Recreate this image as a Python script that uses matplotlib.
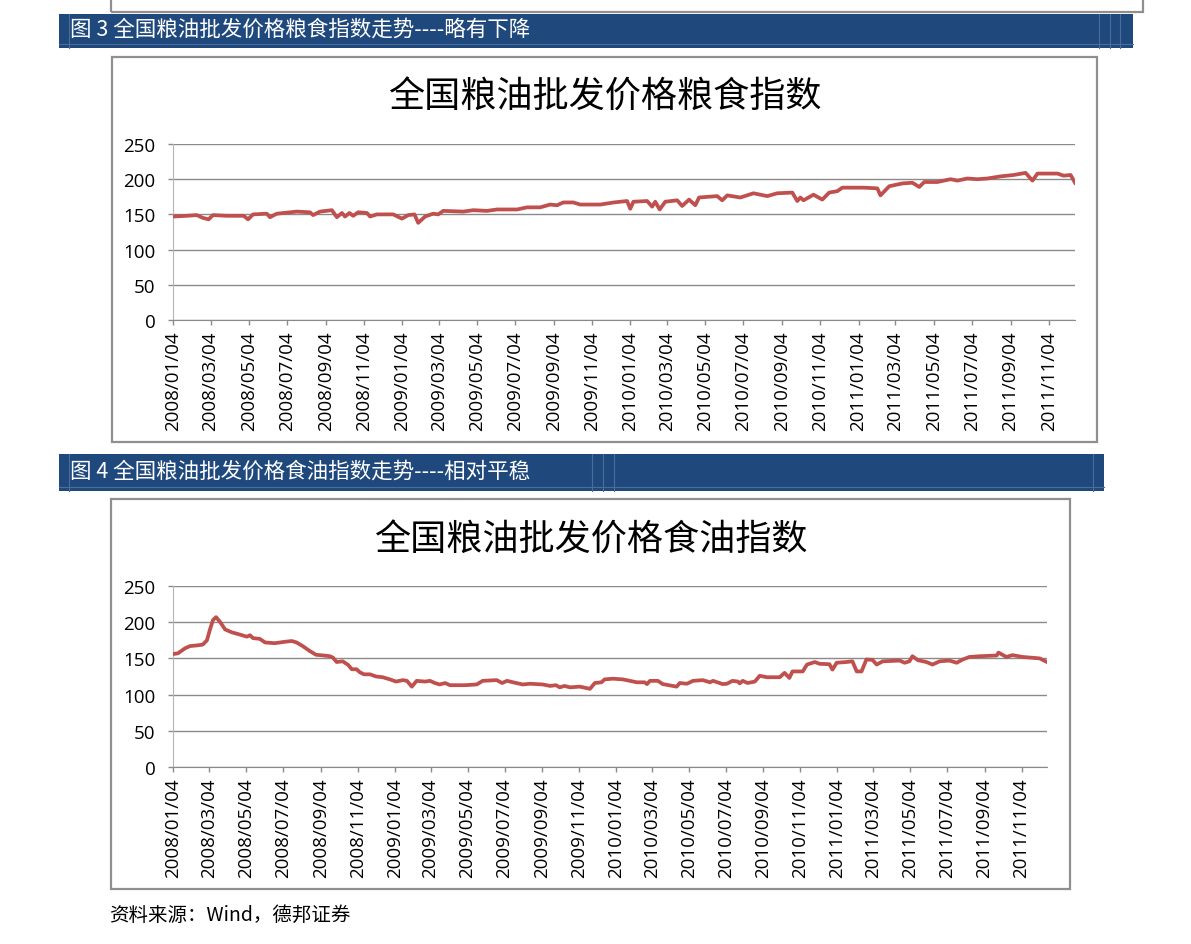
import matplotlib
matplotlib.use("Agg")
import matplotlib.pyplot as plt
import matplotlib.dates as mdates
from matplotlib.patches import Rectangle
from matplotlib.lines import Line2D
import pandas as pd

# ---- data ----
grain_dates = [
    "2008-01-04", "2008-01-26", "2008-02-11", "2008-02-21", "2008-03-01", "2008-03-08",
    "2008-03-30", "2008-04-26", "2008-05-03", "2008-05-11", "2008-06-02", "2008-06-07",
    "2008-06-18", "2008-07-20", "2008-08-10", "2008-08-15", "2008-08-26", "2008-09-14",
    "2008-09-22", "2008-09-30", "2008-10-05", "2008-10-12", "2008-10-18", "2008-10-26",
    "2008-11-09", "2008-11-14", "2008-11-25", "2008-12-21", "2009-01-04", "2009-01-14",
    "2009-01-24", "2009-01-30", "2009-02-10", "2009-02-23", "2009-03-03", "2009-03-11",
    "2009-04-12", "2009-04-28", "2009-05-20", "2009-06-05", "2009-07-07", "2009-07-23",
    "2009-08-13", "2009-08-29", "2009-09-09", "2009-09-19", "2009-10-05", "2009-10-16",
    "2009-11-17", "2009-12-09", "2009-12-30", "2010-01-04", "2010-01-09", "2010-01-31",
    "2010-02-08", "2010-02-13", "2010-02-20", "2010-03-01", "2010-03-20", "2010-03-28",
    "2010-04-08", "2010-04-18", "2010-04-24", "2010-05-23", "2010-05-31", "2010-06-08",
    "2010-06-29", "2010-07-20", "2010-08-11", "2010-08-27", "2010-09-20", "2010-09-28",
    "2010-10-03", "2010-10-08", "2010-10-24", "2010-11-07", "2010-11-18", "2010-12-01",
    "2010-12-09", "2011-01-12", "2011-02-03", "2011-02-08", "2011-02-22", "2011-03-15",
    "2011-03-31", "2011-04-11", "2011-04-19", "2011-05-10", "2011-05-31", "2011-06-11",
    "2011-06-27", "2011-07-13", "2011-07-29", "2011-08-19", "2011-09-09", "2011-09-28",
    "2011-10-09", "2011-10-17", "2011-11-18", "2011-11-28", "2011-12-09", "2011-12-16",
]
grain_values = [
    147, 148, 149, 145, 143, 149,
    148, 148, 143, 150, 151, 146,
    151, 154, 153, 149, 154, 156,
    146, 152, 147, 152, 148, 153,
    152, 147, 150, 150, 144, 149,
    150, 138, 147, 151, 150, 155,
    154, 156, 155, 157, 157, 160,
    160, 164, 163, 167, 167, 164,
    164, 167, 169, 158, 168, 169,
    161, 168, 157, 168, 170, 162,
    171, 163, 174, 176, 170, 177,
    174, 180, 176, 180, 181, 169,
    174, 170, 178, 171, 181, 183,
    188, 188, 187, 177, 190, 194,
    195, 189, 196, 196, 200, 198,
    201, 200, 201, 204, 206, 209,
    198, 208, 208, 205, 206, 195,
]

oil_dates = [
    "2008-01-04", "2008-01-12", "2008-01-24", "2008-02-01", "2008-02-13", "2008-02-22",
    "2008-02-29", "2008-03-05", "2008-03-10", "2008-03-15", "2008-03-22", "2008-03-30",
    "2008-04-10", "2008-04-23", "2008-05-05", "2008-05-10", "2008-05-15", "2008-05-26",
    "2008-06-04", "2008-06-20", "2008-07-07", "2008-07-18", "2008-07-26", "2008-08-05",
    "2008-08-17", "2008-08-27", "2008-09-09", "2008-09-19", "2008-09-24", "2008-09-30",
    "2008-10-10", "2008-10-19", "2008-10-25", "2008-11-02", "2008-11-07", "2008-11-14",
    "2008-11-24", "2008-12-04", "2008-12-15", "2008-12-27", "2009-01-06", "2009-01-17",
    "2009-01-24", "2009-02-01", "2009-02-09", "2009-02-23", "2009-03-03", "2009-03-11",
    "2009-03-19", "2009-03-28", "2009-04-05", "2009-04-30", "2009-05-19", "2009-05-29",
    "2009-06-21", "2009-06-30", "2009-07-08", "2009-07-18", "2009-08-03", "2009-08-15",
    "2009-09-05", "2009-09-17", "2009-09-27", "2009-10-03", "2009-10-11", "2009-10-20",
    "2009-11-05", "2009-11-22", "2009-11-30", "2009-12-11", "2009-12-16", "2009-12-30",
    "2010-01-15", "2010-01-27", "2010-02-07", "2010-02-20", "2010-02-24", "2010-03-01",
    "2010-03-14", "2010-03-22", "2010-04-14", "2010-04-19", "2010-05-01", "2010-05-11",
    "2010-05-27", "2010-06-08", "2010-06-13", "2010-06-29", "2010-07-06", "2010-07-15",
    "2010-07-24", "2010-07-27", "2010-08-01", "2010-08-09", "2010-08-21", "2010-08-29",
    "2010-09-10", "2010-10-01", "2010-10-09", "2010-10-17", "2010-10-22", "2010-11-08",
    "2010-11-15", "2010-11-28", "2010-12-06", "2010-12-22", "2010-12-27", "2011-01-03",
    "2011-01-19", "2011-01-29", "2011-02-05", "2011-02-13", "2011-02-21", "2011-03-03",
    "2011-03-10", "2011-03-20", "2011-04-17", "2011-04-25", "2011-05-03", "2011-05-08",
    "2011-05-17", "2011-05-31", "2011-06-10", "2011-06-22", "2011-07-08", "2011-07-20",
    "2011-07-30", "2011-08-10", "2011-08-27", "2011-09-24", "2011-09-27", "2011-10-10",
    "2011-10-20", "2011-11-06", "2011-12-04", "2011-12-16",
]
oil_values = [
    156, 157, 164, 167, 168, 169,
    175, 190, 203, 207, 200, 190,
    186, 183, 180, 182, 178, 177,
    172, 171, 173, 174, 172, 167,
    160, 155, 154, 153, 151, 145,
    146, 141, 135, 135, 131, 128,
    128, 125, 124, 121, 118, 120,
    119, 111, 119, 118, 119, 116,
    114, 116, 113, 113, 114, 119,
    120, 116, 119, 117, 114, 115,
    114, 112, 113, 110, 112, 110,
    111, 108, 116, 117, 121, 122,
    121, 119, 117, 117, 114.5, 119,
    119, 114.5, 111, 116, 115, 119,
    120, 117, 119, 114.5, 115, 119,
    118, 115.5, 119, 116, 118, 126,
    124, 124, 130, 123, 132, 132,
    141.5, 145, 142.5, 142, 134.5, 144,
    145, 146, 132, 132, 148.5, 148,
    141.5, 146, 147, 144, 146, 153,
    147.5, 145, 141.5, 146, 147, 144,
    148.5, 152, 153, 154, 158, 152,
    154.5, 152, 150, 145,
]

title_grain = "全国粮油批发价格粮食指数"
title_oil = "全国粮油批发价格食油指数"
banner_grain = "图 3 全国粮油批发价格粮食指数走势----略有下降"
banner_oil = "图 4 全国粮油批发价格食油指数走势----相对平稳"
source_note = "资料来源：Wind，德邦证券"
y_ticks = [0, 50, 100, 150, 200, 250]
x_start, x_end = "2008-01-04", "2011-12-16"

W, H = 1191, 945
plt.rcParams['font.family'] = ['Open Sans', 'DejaVu Sans']
cjk = ['Noto Sans CJK SC', 'DejaVu Sans']
fig = plt.figure(figsize=(W / 100, H / 100), dpi=100)


def px_rect(x0, y0, x1, y1):
    # pixel box measured from the top-left -> figure fraction [l, b, w, h]
    return [x0 / W, 1 - y1 / H, (x1 - x0) / W, (y1 - y0) / H]


def frame(x0, y0, x1, y1):
    l, b, w, h = px_rect(x0, y0, x1, y1)
    fig.patches.append(Rectangle((l, b), w, h, transform=fig.transFigure,
                                 fill=False, ec='#8f8f8f', lw=1.6))


def banner(x0, y0, x1, y1, text, marks):
    l, b, w, h = px_rect(x0, y0, x1, y1)
    fig.patches.append(Rectangle((l, b), w, h, transform=fig.transFigure,
                                 fc='#1f497d', ec='none'))
    yl = b + 4 / H
    fig.add_artist(Line2D([l, l + w], [yl, yl], transform=fig.transFigure,
                          color='#4c6d9a', lw=0.8))
    for mx in marks:
        fig.add_artist(Line2D([mx / W, mx / W], [b, b + h], transform=fig.transFigure,
                              color='#4c6d9a', lw=0.8))
    fig.text((x0 + 11) / W, b + h / 2 + 2 / H, text, color='white', fontsize=15.5,
             family=cjk, va='center', ha='left')


def style_dates(ax):
    ax.set_xlim(pd.Timestamp(x_start), pd.Timestamp(x_end))
    ax.xaxis.set_major_locator(mdates.MonthLocator(bymonth=[1, 3, 5, 7, 9, 11], bymonthday=4))
    ax.xaxis.set_major_formatter(mdates.DateFormatter('%Y/%m/%d'))


def draw_chart(box, dates, values, title, title_x, title_y):
    ax = fig.add_axes(px_rect(*box))
    ax.plot(pd.to_datetime(dates), values, color='#c0504d', lw=2.7,
            solid_joinstyle='round', zorder=3)
    style_dates(ax)
    ax.set_ylim(0, 250)
    ax.set_yticks(y_ticks)
    ax.yaxis.grid(True, color='#8a8a8a', lw=1)
    ax.set_axisbelow(True)
    ax.tick_params(axis='x', rotation=90, length=3.6, width=1, color='#8a8a8a',
                   labelsize=13.5, pad=4)
    ax.tick_params(axis='y', length=3.6, width=1, color='#8a8a8a', labelsize=13.5, pad=9)
    for s in ['top', 'right']:
        ax.spines[s].set_visible(False)
    ax.spines['left'].set_color('#b5b5b5')
    ax.spines['bottom'].set_color('#8a8a8a')
    fig.text(title_x / W, 1 - title_y / H, title, fontsize=26, family=cjk,
             ha='center', va='center')
    return ax


# remnant of the previous chart at the very top (only the ends of its date labels show)
frame(111, -20, 1143, 13)
ax0 = fig.add_axes([169 / W, 1 + 104 / H, 946 / W, 0.01])
style_dates(ax0)
ax0.tick_params(axis='x', rotation=90, length=0, pad=0, labelsize=13.5, labelcolor='#555555')
ax0.set_yticks([])
for s in ax0.spines.values():
    s.set_visible(False)
ax0.patch.set_visible(False)

banner(59, 15, 1133, 49, banner_grain, [69, 1099, 1110, 1120])
frame(112, 58, 1097, 443)
draw_chart((173, 145, 1075, 321), grain_dates, grain_values, title_grain, 605, 98)

banner(59, 455, 1104, 492, banner_oil, [69, 592, 603, 614, 1093])
frame(111, 500, 1070, 890)
draw_chart((173, 587, 1047, 768), oil_dates, oil_values, title_oil, 591, 541)

fig.text(109 / W, 1 - 915 / H, source_note, fontsize=14, family=cjk,
         ha='left', va='center')

fig.savefig("out.png", dpi=100)
